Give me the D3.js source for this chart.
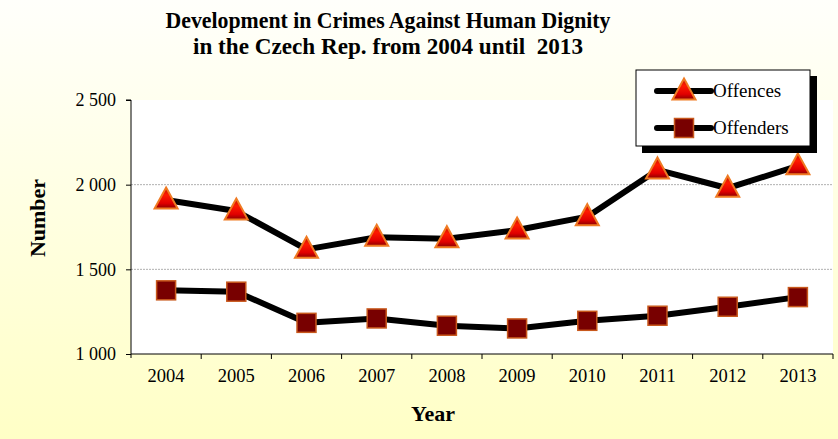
<!DOCTYPE html>
<html><head><meta charset="utf-8">
<script src="https://cdn.jsdelivr.net/npm/d3@7"></script>
<style>html,body{margin:0;padding:0;background:#fff}svg{display:block}</style>
</head><body>
<script>
const years = ["2004","2005","2006","2007","2008","2009","2010","2011","2012","2013"];
const offences = [1909, 1844, 1618, 1689, 1681, 1732, 1811, 2087, 1979, 2111];
const offenders = [1376, 1368, 1184, 1210, 1167, 1151, 1196, 1226, 1279, 1336];
const yTicks = [1000, 1500, 2000, 2500];
const gridTicks = [1500, 2000];
const seriesNames = ["Offences", "Offenders"];

(function(){
const W = 838, H = 439;
const svg = d3.select("body").append("svg").attr("width", W).attr("height", H);
const defs = svg.append("defs");
const bg = defs.append("linearGradient").attr("id","bg").attr("x1",0).attr("y1",0).attr("x2",0).attr("y2",1);
bg.append("stop").attr("offset","0%").attr("stop-color","#fffffb");
bg.append("stop").attr("offset","100%").attr("stop-color","#ffffc6");
const tg = defs.append("linearGradient").attr("id","tri").attr("x1",0).attr("y1",0).attr("x2",0).attr("y2",1);
tg.append("stop").attr("offset","0%").attr("stop-color","#c01000");
tg.append("stop").attr("offset","35%").attr("stop-color","#ff1a00");
tg.append("stop").attr("offset","75%").attr("stop-color","#e00000");
tg.append("stop").attr("offset","100%").attr("stop-color","#8a0000");

svg.append("rect").attr("width",W).attr("height",H).attr("fill","url(#bg)");

const serif = "'Liberation Serif','Times New Roman',serif";
const pL = 131, pR = 833, pT = 100, pB = 354;
svg.append("rect").attr("x",pL).attr("y",pT).attr("width",pR-pL).attr("height",pB-pT).attr("fill","#fff");

const x = d3.scaleBand().domain(years).range([pL, pR]);
const y = d3.scaleLinear().domain([1000, 2500]).range([pB, pT]);

// gridlines
svg.append("g").selectAll("line").data(gridTicks).join("line")
  .attr("x1", pL).attr("x2", pR)
  .attr("y1", d => y(d)).attr("y2", d => y(d))
  .attr("stroke","#b0b0b0").attr("stroke-width",1).attr("stroke-dasharray","2,1");

// axes
const yAxis = d3.axisLeft(y).tickValues(yTicks).tickSize(5).tickPadding(10);
const yg = svg.append("g").attr("transform",`translate(${pL},0)`).call(yAxis);
yg.select(".domain").attr("d", `M-5,${pT}H0V${pB+4}`);
yg.selectAll("text").attr("font-family",serif).attr("font-size",18).attr("fill","#000")
  .text(d => String(d).replace(/(\d)(\d{3})$/, "$1 $2"));

const xg = svg.append("g").attr("transform",`translate(0,${pB})`);
xg.append("line").attr("x1",pL).attr("x2",pR).attr("y1",0).attr("y2",0).attr("stroke","#000");
xg.selectAll("line.tk").data(years).join("line").attr("class","tk")
  .attr("x1",d => x(d) + x.step()).attr("x2",d => x(d) + x.step())
  .attr("y1",0).attr("y2",5).attr("stroke","#000");
xg.selectAll("text").data(years).join("text")
  .attr("x", d => x(d) + x.bandwidth()/2).attr("y", 28)
  .attr("text-anchor","middle").attr("font-family",serif).attr("font-size",18.5).text(d => d);

// titles
const title = svg.append("text").attr("text-anchor","middle").attr("font-family",serif)
  .attr("font-weight","bold").attr("font-size",24).style("white-space","pre");
title.append("tspan").attr("x",388).attr("y",28).attr("textLength",445).attr("lengthAdjust","spacingAndGlyphs").text("Development in Crimes Against Human Dignity");
title.append("tspan").attr("x",388).attr("y",53.5).attr("textLength",390).attr("lengthAdjust","spacingAndGlyphs").text("in the Czech Rep. from 2004 until  2013");

svg.append("text").attr("x",433).attr("y",421).attr("text-anchor","middle")
  .attr("font-family",serif).attr("font-weight","bold").attr("font-size",22).text("Year");
svg.append("text").attr("transform","translate(45,218) rotate(-90)").attr("text-anchor","middle")
  .attr("font-family",serif).attr("font-weight","bold").attr("font-size",22).text("Number");

// lines
const line = d3.line().x((d,i) => x(years[i]) + x.bandwidth()/2).y(d => y(d));
[offences, offenders].forEach(s => {
  svg.append("path").attr("d", line(s)).attr("fill","none").attr("stroke","#000")
    .attr("stroke-width",6).attr("stroke-linejoin","round");
});

const triPath = (cx, cy) => `M${cx},${cy-12.5}L${cx+11.5},${cy+8.5}L${cx-11.5},${cy+8.5}Z`;
function drawTri(g, cx, cy) {
  g.append("path").attr("d", triPath(cx, cy)).attr("fill","url(#tri)")
    .attr("stroke","#ef7a22").attr("stroke-width",2).attr("stroke-linejoin","miter");
}
function drawSq(g, cx, cy) {
  g.append("rect").attr("x",cx-9.5).attr("y",cy-9.5).attr("width",19).attr("height",19)
    .attr("fill","#780000").attr("stroke","#c8581c").attr("stroke-width",1.5);
}
const mk = svg.append("g");
offences.forEach((v,i) => drawTri(mk, x(years[i]) + x.bandwidth()/2, y(v)));
offenders.forEach((v,i) => drawSq(mk, x(years[i]) + x.bandwidth()/2, y(v)));

// legend
const lg = svg.append("g");
lg.append("rect").attr("x",642).attr("y",76).attr("width",175).attr("height",77).attr("fill","#000");
lg.append("rect").attr("x",636).attr("y",70).attr("width",174).attr("height",76).attr("fill","#fff").attr("stroke","#000").attr("stroke-width",1);
seriesNames.forEach((n,i) => {
  const cy = i === 0 ? 91 : 128;
  lg.append("line").attr("x1",657).attr("x2",711).attr("y1",cy).attr("y2",cy)
    .attr("stroke","#000").attr("stroke-width",6).attr("stroke-linecap","round");
  if (i === 0) drawTri(lg, 684, cy); else drawSq(lg, 684, cy);
  lg.append("text").attr("x",713).attr("y",cy+6).attr("font-family",serif).attr("font-size",19).text(n);
});
})();
</script>
</body></html>
